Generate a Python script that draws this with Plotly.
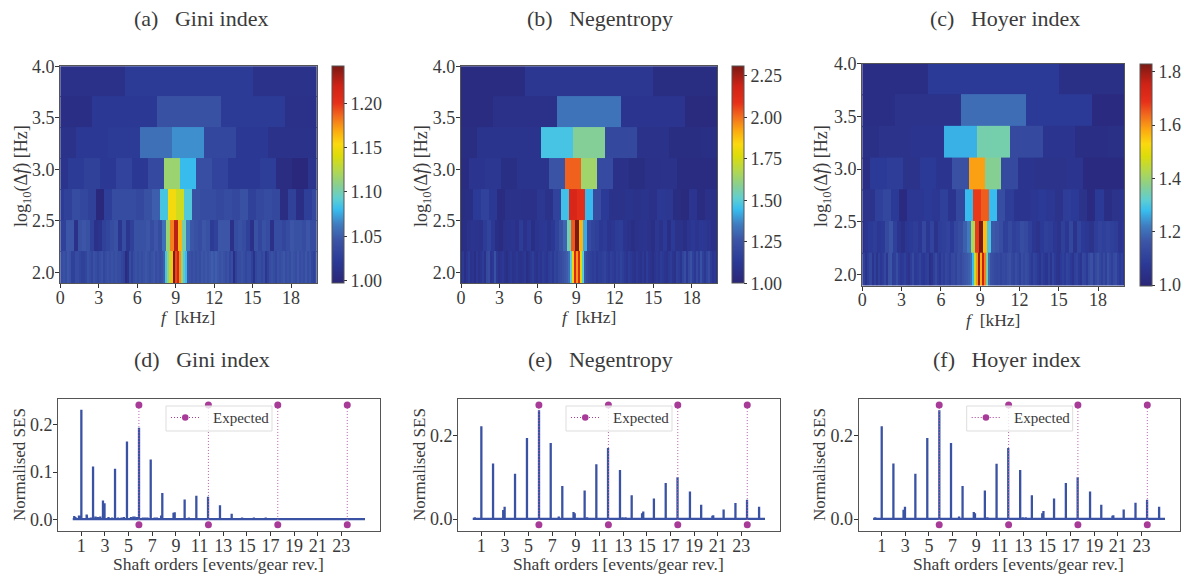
import numpy as np
import plotly.graph_objects as go

W, H = 1184, 579
FONT = "Liberation Serif"
TXT = "#3a3a3a"

# kurtogram rows: bandwidth (kHz) from coarse to fine, values per frequency cell
bandwidths_khz = [10, 5, 2.5, 1.25, 0.625, 0.3125, 0.15625]

gini_rows = [
 [1.010, 1.022, 1.012],
 [1.008, 1.020, 1.042, 1.022, 1.010],
 [1.012, 1.020, 1.022, 1.058, 1.068, 1.033, 1.020, 1.012, 1.012],
 [1.014, 1.022, 1.028, 1.020, 1.030, 1.020, 1.035, 1.115, 1.080, 1.040, 1.030, 1.020, 1.020, 1.025, 1.005, 1.000, 1.015],
 [1.022, 1.028, 1.038, 1.033, 1.028, 1.000, 1.026, 1.038, 1.038, 1.038, 1.034, 1.042, 1.050, 1.085, 1.150, 1.135, 1.088,
  1.042, 1.038, 1.038, 1.034, 1.038, 1.034, 1.042, 1.028, 1.034, 1.038, 1.034, 1.005, 1.028, 1.008, 1.026, 1.034],
 [1.028, 1.028, 1.046, 1.046, 1.010, 1.042, 1.046, 1.042, 1.028, 1.010, 1.014, 1.028, 1.032, 1.038, 1.042, 1.016, 1.038,
  1.016, 1.028, 1.042, 1.042, 1.042, 1.046, 1.038, 1.046, 1.038, 1.058, 1.115, 1.180, 1.225, 1.165, 1.100, 1.062,
  1.046, 1.042, 1.038, 1.046, 1.042, 1.022, 1.028, 1.046, 1.046, 1.046, 1.010, 1.038, 1.042, 1.038, 1.028, 1.010,
  1.042, 1.032, 1.042, 1.038, 1.010, 1.038, 1.038, 1.032, 1.038, 1.046, 1.042, 1.042, 1.038, 1.046, 1.038, 1.038],
 [1.028, 1.038, 1.042, 1.038, 1.046, 1.042, 1.028, 1.028, 1.038, 1.038,
  1.032, 1.028, 1.028, 1.032, 1.042, 1.038, 1.032, 1.042, 1.038, 1.032,
  1.038, 1.042, 1.032, 1.038, 1.042, 1.038, 1.042, 1.038, 1.042, 1.038,
  1.038, 1.032, 1.028, 1.004, 1.012, 1.038, 1.028, 1.038, 1.042, 1.038,
  1.042, 1.038, 1.042, 1.046, 1.042, 1.038, 1.042, 1.046, 1.038, 1.042,
  1.038, 1.042, 1.050, 1.085, 1.110, 1.130, 1.160, 1.245, 1.195, 1.215,
  1.175, 1.115, 1.090, 1.080, 1.046, 1.042, 1.038, 1.042, 1.038, 1.042,
  1.038, 1.046, 1.042, 1.046, 1.042, 1.046, 1.050, 1.046, 1.050, 1.046,
  1.042, 1.046, 1.042, 1.038, 1.042, 1.032, 1.038, 1.008, 1.028, 1.038,
  1.038, 1.042, 1.038, 1.032, 1.038, 1.038, 1.028, 1.012, 1.032, 1.038,
  1.038, 1.032, 1.038, 1.016, 1.028, 1.038, 1.042, 1.038, 1.032, 1.042,
  1.038, 1.042, 1.046, 1.038, 1.042, 1.038, 1.046, 1.042, 1.038, 1.046,
  1.038, 1.042, 1.038, 1.046, 1.038, 1.042, 1.032, 1.028, 1.038],
]

negentropy_rows = [
 [1.04, 1.11, 1.05],
 [1.04, 1.07, 1.33, 1.10, 1.03],
 [1.05, 1.09, 1.09, 1.47, 1.58, 1.20, 1.08, 1.05, 1.06],
 [1.04, 1.10, 1.11, 1.06, 1.09, 1.09, 1.25, 2.02, 1.64, 1.21, 1.07, 1.05, 1.07, 1.08, 1.04, 1.04, 1.04],
 [1.05, 1.06, 1.13, 1.17, 1.12, 1.04, 1.08, 1.08, 1.07, 1.07, 1.11, 1.08, 1.17, 1.46, 2.15, 2.11, 1.44,
  1.22, 1.13, 1.08, 1.08, 1.09, 1.08, 1.09, 1.07, 1.12, 1.11, 1.05, 1.03, 1.10, 1.04, 1.07, 1.07],
 [1.05, 1.06, 1.08, 1.10, 1.09, 1.08, 1.14, 1.18, 1.12, 1.06, 1.04, 1.08, 1.09, 1.10, 1.07, 1.14, 1.08,
  1.12, 1.06, 1.10, 1.11, 1.12, 1.09, 1.12, 1.18, 1.24, 1.30, 1.55, 2.03, 2.31, 1.90, 1.42, 1.22,
  1.18, 1.16, 1.12, 1.14, 1.10, 1.11, 1.14, 1.15, 1.10, 1.08, 1.06, 1.08, 1.09, 1.10, 1.08, 1.06,
  1.11, 1.08, 1.13, 1.06, 1.13, 1.08, 1.08, 1.06, 1.10, 1.12, 1.10, 1.12, 1.11, 1.10, 1.07, 1.08],
 [1.08, 1.12, 1.06, 1.10, 1.14, 1.08, 1.10, 1.06, 1.12, 1.08,
  1.10, 1.14, 1.08, 1.20, 1.22, 1.10, 1.12, 1.24, 1.12, 1.08,
  1.10, 1.12, 1.08, 1.06, 1.10, 1.12, 1.08, 1.10, 1.12, 1.09,
  1.08, 1.10, 1.12, 1.06, 1.08, 1.12, 1.15, 1.10, 1.08, 1.12,
  1.10, 1.14, 1.12, 1.10, 1.14, 1.16, 1.12, 1.18, 1.16, 1.20,
  1.22, 1.24, 1.26, 1.28, 1.32, 1.50, 1.85, 2.15, 1.95, 2.13,
  1.78, 1.50, 1.25, 1.20, 1.18, 1.16, 1.14, 1.16, 1.12, 1.15,
  1.14, 1.16, 1.18, 1.14, 1.12, 1.16, 1.14, 1.12, 1.16, 1.14,
  1.18, 1.15, 1.12, 1.10, 1.14, 1.12, 1.10, 1.08, 1.12, 1.10,
  1.08, 1.12, 1.08, 1.14, 1.10, 1.08, 1.06, 1.10, 1.12, 1.10,
  1.14, 1.12, 1.10, 1.08, 1.12, 1.14, 1.10, 1.08, 1.16, 1.14,
  1.10, 1.18, 1.22, 1.12, 1.20, 1.24, 1.16, 1.12, 1.20, 1.14,
  1.24, 1.16, 1.12, 1.18, 1.22, 1.14, 1.10, 1.12, 1.08],
]

hoyer_rows = [
 [1.03, 1.08, 1.04],
 [1.03, 1.05, 1.20, 1.08, 1.02],
 [1.04, 1.05, 1.06, 1.27, 1.35, 1.13, 1.06, 1.03, 1.04],
 [1.03, 1.08, 1.09, 1.05, 1.08, 1.06, 1.15, 1.59, 1.37, 1.13, 1.06, 1.05, 1.05, 1.06, 1.02, 1.02, 1.02],
 [1.05, 1.05, 1.10, 1.12, 1.08, 1.02, 1.07, 1.07, 1.08, 1.07, 1.10, 1.06, 1.12, 1.28, 1.68, 1.65, 1.28,
  1.14, 1.09, 1.06, 1.06, 1.07, 1.08, 1.07, 1.05, 1.09, 1.08, 1.05, 1.02, 1.08, 1.03, 1.05, 1.06],
 [1.04, 1.06, 1.08, 1.09, 1.07, 1.08, 1.13, 1.16, 1.10, 1.06, 1.04, 1.07, 1.08, 1.09, 1.07, 1.12, 1.07,
  1.11, 1.05, 1.09, 1.10, 1.11, 1.08, 1.12, 1.14, 1.18, 1.22, 1.42, 1.68, 1.83, 1.56, 1.30, 1.17,
  1.16, 1.14, 1.10, 1.13, 1.10, 1.11, 1.14, 1.13, 1.10, 1.07, 1.05, 1.08, 1.10, 1.09, 1.07, 1.05,
  1.10, 1.07, 1.12, 1.05, 1.11, 1.08, 1.07, 1.05, 1.09, 1.11, 1.10, 1.11, 1.10, 1.09, 1.06, 1.07],
 [1.06, 1.10, 1.05, 1.09, 1.12, 1.06, 1.10, 1.05, 1.10, 1.07,
  1.09, 1.12, 1.07, 1.15, 1.16, 1.09, 1.10, 1.14, 1.09, 1.07,
  1.08, 1.10, 1.07, 1.05, 1.09, 1.13, 1.08, 1.09, 1.11, 1.08,
  1.07, 1.09, 1.10, 1.04, 1.06, 1.10, 1.13, 1.09, 1.07, 1.11,
  1.09, 1.12, 1.11, 1.09, 1.12, 1.13, 1.11, 1.14, 1.13, 1.15,
  1.16, 1.17, 1.18, 1.20, 1.28, 1.46, 1.60, 1.80, 1.58, 1.76,
  1.62, 1.35, 1.20, 1.15, 1.14, 1.13, 1.12, 1.13, 1.11, 1.13,
  1.12, 1.14, 1.15, 1.12, 1.11, 1.14, 1.12, 1.10, 1.14, 1.12,
  1.14, 1.13, 1.10, 1.08, 1.11, 1.10, 1.08, 1.06, 1.10, 1.08,
  1.06, 1.10, 1.06, 1.11, 1.08, 1.06, 1.05, 1.08, 1.10, 1.08,
  1.11, 1.10, 1.08, 1.06, 1.10, 1.11, 1.08, 1.06, 1.12, 1.11,
  1.08, 1.13, 1.15, 1.10, 1.13, 1.15, 1.12, 1.10, 1.13, 1.10,
  1.15, 1.12, 1.10, 1.13, 1.14, 1.10, 1.08, 1.10, 1.07],
]

# envelope spectra: harmonic peaks
orders_low = [1.0, 1.99, 2.83, 2.96, 3.85, 4.86, 5.88, 6.87, 7.85, 8.8, 8.9, 9.74, 10.73, 11.72, 12.73, 13.72]
gini_peaks = [0.232, 0.112, 0.040, 0.034, 0.107, 0.165, 0.194, 0.127, 0.056, 0.014, 0.015, 0.042, 0.050, 0.048, 0.030, 0.012]
gini_minor_orders = [0.4, 0.5, 0.8, 0.9, 1.45, 1.5, 1.8, 2.2, 2.4, 2.6, 3.3, 3.6, 4.1, 4.4, 4.6, 5.2, 5.4, 5.5, 5.7, 6.2, 6.4, 6.6, 7.2, 7.4, 7.75, 8.1, 8.4, 9.9, 10.1, 14.6, 15.6, 16.6, 18.6]
gini_minor_vals = [0.007, 0.005, 0.008, 0.007, 0.010, 0.008, 0.004, 0.006, 0.005, 0.006, 0.005, 0.004, 0.004, 0.004, 0.005, 0.005, 0.006, 0.006, 0.005, 0.004, 0.004, 0.004, 0.004, 0.004, 0.008, 0.003, 0.003, 0.003, 0.004, 0.004, 0.004, 0.004, 0.002]

orders_full = [1.0, 1.99, 2.85, 2.97, 3.85, 4.86, 5.88, 6.87, 7.85, 8.8, 8.9, 9.74, 10.73, 11.72, 12.73, 13.72, 14.6, 14.7, 15.6, 16.6, 17.6, 18.65, 19.6, 20.55, 20.62, 21.5, 22.5, 23.48, 24.5]
neg_peaks = [0.222, 0.133, 0.0215, 0.029, 0.108, 0.194, 0.260, 0.182, 0.079, 0.017, 0.014, 0.068, 0.131, 0.170, 0.117, 0.057, 0.0135, 0.018, 0.049, 0.086, 0.100, 0.066, 0.034, 0.008, 0.009, 0.023, 0.038, 0.046, 0.029]
hoyer_peaks = [0.222, 0.133, 0.022, 0.029, 0.108, 0.194, 0.260, 0.182, 0.079, 0.017, 0.014, 0.068, 0.132, 0.170, 0.117, 0.057, 0.014, 0.019, 0.049, 0.086, 0.100, 0.066, 0.034, 0.008, 0.009, 0.023, 0.039, 0.046, 0.029]
full_minor_orders = [0.45, 2.2, 2.4, 5.5, 6.2, 6.4, 7.55, 9.95, 11.1, 12.95, 13.2, 15.0, 19.0]
full_minor_vals = [0.004, 0.003, 0.003, 0.002, 0.003, 0.003, 0.006, 0.004, 0.003, 0.004, 0.004, 0.002, 0.002]

baseline_order_start, baseline_order_end = 0.27, 25.0
expected_orders = [5.87, 11.75, 17.62, 23.5]

GAP = "\u2002\u2005"
panel_titles_top = ["(a)" + GAP + "Gini index", "(b)" + GAP + "Negentropy", "(c)" + GAP + "Hoyer index"]
panel_titles_bottom = ["(d)" + GAP + "Gini index", "(e)" + GAP + "Negentropy", "(f)" + GAP + "Hoyer index"]
freq_ticks = [0, 3, 6, 9, 12, 15, 18]
level_ticks = [2.0, 2.5, 3.0, 3.5, 4.0]
order_ticks = list(range(1, 24, 2))

colorscale = [[0.0, "#2a2678"], [0.1, "#2b3a96"], [0.2, "#3c55a6"], [0.27, "#3f7cc0"], [0.34, "#38bdef"],
              [0.39, "#60cfd0"], [0.45, "#88cf90"], [0.52, "#b4d84c"], [0.585, "#dcdc0a"], [0.64, "#fbd90f"],
              [0.70, "#fcab10"], [0.77, "#f26a1e"], [0.83, "#e6301a"], [0.91, "#cf2216"], [1.0, "#7a1a14"]]

# ---- layout geometry in pixels ----
top_panels = [
    dict(x=(60.3, 316.7), y=(66.3, 283.3), cb=(332, 344), cmin=0.997, cmax=1.2417, dtick=0.05, tick0=1.0, fmt=".2f", rows=gini_rows,
         xtitle=(188, 317), ytitle=(22, 176)),
    dict(x=(461, 717.3), y=(66.3, 283.3), cb=(732.3, 744), cmin=1.0, cmax=2.308, dtick=0.25, tick0=1.0, fmt=".2f", rows=negentropy_rows,
         xtitle=(589, 317), ytitle=(422, 176)),
    dict(x=(862.3, 1124.3), y=(63.7, 285.7), cb=(1140.3, 1152), cmin=0.9975, cmax=1.83, dtick=0.2, tick0=1.0, fmt=".1f", rows=hoyer_rows,
         xtitle=(993, 320), ytitle=(822, 176)),
]
bottom_panels = [
    dict(x=(58.3, 380), y=(399, 531), yr=(-0.0247, 0.255), dtick=0.1, mt=0.2424, mb=-0.0113, o=orders_low, p=gini_peaks, mo=gini_minor_orders, mv=gini_minor_vals, leg=(166, 272), fmt=".1f",
         xtitle=(218, 564), ytitle=(19, 465)),
    dict(x=(458.3, 780), y=(399, 531), yr=(-0.0287, 0.287), dtick=0.2, mt=0.2725, mb=-0.0135, o=orders_full, p=neg_peaks, mo=full_minor_orders, mv=full_minor_vals, leg=(566, 672), fmt=".1f",
         xtitle=(618, 564), ytitle=(419, 465)),
    dict(x=(858.7, 1180), y=(399, 531), yr=(-0.0287, 0.287), dtick=0.2, mt=0.2725, mb=-0.0135, o=orders_full, p=hoyer_peaks, mo=full_minor_orders, mv=full_minor_vals, leg=(966.7, 1072.7), fmt=".1f",
         xtitle=(1018, 564), ytitle=(819, 465)),
]

def fx(px):
    return px / W

def fy(px):
    return 1 - px / H

def note(text, cx, cy, size, angle=0):
    return dict(text=text, x=fx(cx), y=fy(cy), xref="paper", yref="paper", showarrow=False, textangle=angle,
                xanchor="center", yanchor="middle", font=dict(family=FONT, size=size, color=TXT))

fig = go.Figure()
layout = dict(
    width=W, height=H, autosize=False, margin=dict(l=0, r=0, t=0, b=0, autoexpand=False),
    paper_bgcolor="white", plot_bgcolor="white", showlegend=False,
    font=dict(family=FONT, size=16, color=TXT),
)
axis_style = dict(showgrid=False, zeroline=False, showline=True, mirror=True, linecolor="#555555", linewidth=1.2,
                  ticks="outside", ticklen=4, tickwidth=1, tickcolor="#333333", automargin=False,
                  tickfont=dict(family=FONT, size=18, color=TXT))
annotations = []

y_low = np.log10(np.array(bandwidths_khz) * 1000)
seam = 0.012  # small overlap so neighbouring rows leave no hairline

for i, p in enumerate(top_panels):
    n = i + 1
    xa, ya = f"x{n}", f"y{n}"
    ca = f"coloraxis{n if n > 1 else ''}"
    for w, top, row in zip(bandwidths_khz, y_low, p["rows"]):
        edges = w * (np.arange(len(row) + 1) - 0.5)
        fig.add_trace(go.Heatmap(z=[row], x=edges, y=[top - np.log10(2), top + seam], coloraxis=ca, xaxis=xa, yaxis=ya,
                                 zsmooth=False, hoverinfo="skip"))
    layout[f"xaxis{n}"] = dict(axis_style, domain=[fx(p["x"][0]), fx(p["x"][1])], range=[0, 20], anchor=ya,
                               tickvals=freq_ticks, ticklabelstandoff=-6)
    layout[f"yaxis{n}"] = dict(axis_style, domain=[fy(p["y"][1]), fy(p["y"][0])], range=[y_low[-1] - np.log10(2), 4.0], anchor=xa,
                               tickvals=level_ticks, ticktext=[f"{v:.1f}" for v in level_ticks], ticklabelstandoff=-3)
    annotations.append(note("<i>f</i>  [kHz]", *p["xtitle"], 17.5))
    annotations.append(note("log<sub>10</sub>(\u0394<i>f</i>) [Hz]", *p["ytitle"], 18, -90))
    cb_h = p["y"][1] - p["y"][0]
    layout[ca] = dict(cmin=p["cmin"], cmax=p["cmax"], colorscale=colorscale,
                      colorbar=dict(x=fx(p["cb"][0]), xanchor="left", xpad=0, ypad=0, y=fy(p["y"][1]), yanchor="bottom",
                                    lenmode="pixels", len=cb_h, thicknessmode="pixels", thickness=p["cb"][1] - p["cb"][0],
                                    outlinecolor="#555555", outlinewidth=1, ticks="outside", ticklen=3, tickcolor="#333333",
                                    tick0=p["tick0"], dtick=p["dtick"], tickformat=p["fmt"],
                                    tickfont=dict(family=FONT, size=18, color=TXT)))

LINE = "#3a52a4"
EXP = "#a83a98"
for j, p in enumerate(bottom_panels):
    n = j + 4
    xa, ya = f"x{n}", f"y{n}"
    # spectrum line: baseline, then each peak as up-and-down excursion, in order
    pts = sorted(list(zip(p["o"], p["p"])) + list(zip(p["mo"], p["mv"])))
    xs, ys = [baseline_order_start], [0.0005]
    for o, h in pts:
        xs += [o, o, o]
        ys += [0.0005, h, 0.0005]
    xs.append(baseline_order_end)
    ys.append(0.0005)
    fig.add_trace(go.Scatter(x=xs, y=ys, mode="lines", line=dict(color=LINE, width=2.3), xaxis=xa, yaxis=ya, hoverinfo="skip"))
    ex, ey = [], []
    for e in expected_orders:
        ex += [e, e, None]
        ey += [p["mt"], p["mb"], None]
    fig.add_trace(go.Scatter(x=ex, y=ey, mode="lines", line=dict(color="#b860aa", width=1, dash="1px,2px"),
                             xaxis=xa, yaxis=ya, hoverinfo="skip"))
    fig.add_trace(go.Scatter(x=ex, y=ey, mode="markers", name="Expected", marker=dict(color=EXP, size=7),
                             xaxis=xa, yaxis=ya, hoverinfo="skip"))
    layout[f"xaxis{n}"] = dict(axis_style, domain=[fx(p["x"][0]), fx(p["x"][1])], range=[-0.95, 26.27], anchor=ya,
                               tickvals=order_ticks, ticklabelstandoff=-6)
    layout[f"yaxis{n}"] = dict(axis_style, domain=[fy(p["y"][1]), fy(p["y"][0])], range=list(p["yr"]), anchor=xa,
                               dtick=p["dtick"], tick0=0, tickformat=p["fmt"], ticklabelstandoff=-3)
    annotations.append(note("Shaft orders [events/gear rev.]", *p["xtitle"], 17.5))
    annotations.append(note("Normalised SES", *p["ytitle"], 17, -90))

title_centres_top = [201, 600, 1005]
title_centres_bottom = [202, 600, 1007]
for t, cx in zip(panel_titles_top, title_centres_top):
    annotations.append(note(t, cx, 19, 22))
for t, cx in zip(panel_titles_bottom, title_centres_bottom):
    annotations.append(note(t, cx, 359, 22))

# legend boxes (one per lower panel), as real text + paper shapes
shapes = []
for p in bottom_panels:
    lx0, lx1 = p["leg"]
    shapes.append(dict(type="rect", xref="paper", yref="paper", x0=fx(lx0), x1=fx(lx1), y0=fy(431), y1=fy(406),
                       fillcolor="rgba(255,255,255,0.8)", line=dict(color="#dddddd", width=1), layer="above"))
    shapes.append(dict(type="line", xref="paper", yref="paper", x0=fx(lx0 + 5), x1=fx(lx0 + 33), y0=fy(417.5), y1=fy(417.5),
                       line=dict(color=EXP, width=1, dash="1px,2px"), layer="above"))
    shapes.append(dict(type="circle", xref="paper", yref="paper", x0=fx(lx0 + 16), x1=fx(lx0 + 22.5), y0=fy(420.7), y1=fy(414.2),
                       fillcolor=EXP, line=dict(color=EXP, width=0), layer="above"))
    annotations.append(dict(text="Expected", x=fx(lx0 + 45), y=fy(418), xref="paper", yref="paper", showarrow=False,
                            xanchor="left", yanchor="middle", font=dict(family=FONT, size=15, color=TXT)))

layout["annotations"] = annotations
layout["shapes"] = shapes
fig.update_layout(**layout)
fig.write_html("out.html", config=dict(displayModeBar=False),
               post_script="document.body.style.margin='0';document.body.style.overflow='hidden';")
